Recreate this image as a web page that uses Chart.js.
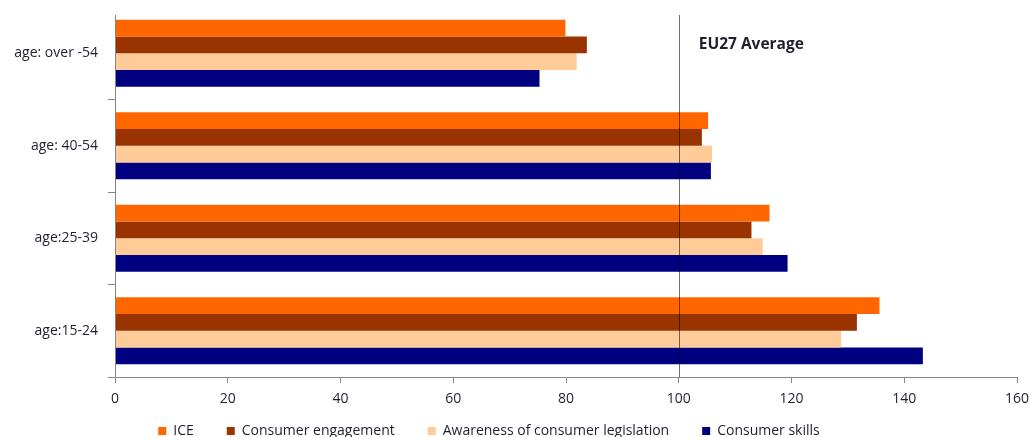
<!DOCTYPE html>
<html>
<head>
<meta charset="utf-8">
<script src="https://cdn.jsdelivr.net/npm/chart.js@4.4.1/dist/chart.umd.min.js"></script>
<style>
  html, body { margin: 0; padding: 0; background: #ffffff; }
  #wrap { width: 1030px; height: 437px; position: relative; }
</style>
</head>
<body>
<div id="wrap"><canvas id="c" width="1030" height="437"></canvas></div>
<script>
const categories = ['age: over -54', 'age: 40-54', 'age:25-39', 'age:15-24'];
const seriesNames = ['ICE', 'Consumer engagement', 'Awareness of consumer legislation', 'Consumer skills'];
const iceValues = [79.9, 105.2, 116.1, 135.6];
const engagementValues = [83.7, 104.1, 112.9, 131.6];
const awarenessValues = [81.9, 105.9, 114.9, 128.8];
const skillsValues = [75.3, 105.7, 119.3, 143.3];
const xMin = 0;
const xMax = 160;
const xStep = 20;
const averageValue = 100;
const averageLabel = 'EU27 Average';

const colors = ['#FF6600', '#993300', '#FFCC99', '#000080'];
const seriesValues = [iceValues, engagementValues, awarenessValues, skillsValues];
const FONT = 'Open Sans';
const TEXT = '#1f1f2e';
const AXIS = '#868686';

const avgPlugin = {
  id: 'avgLine',
  afterDatasetsDraw(chart) {
    const x = chart.scales.x.getPixelForValue(averageValue);
    const area = chart.chartArea;
    const ctx = chart.ctx;
    ctx.save();
    ctx.strokeStyle = AXIS;
    ctx.lineWidth = 1;
    ctx.beginPath();
    ctx.moveTo(Math.round(area.left) + 0.5, area.top + 8);
    ctx.lineTo(Math.round(area.left) + 0.5, area.bottom);
    ctx.stroke();
    ctx.strokeStyle = 'rgba(0,0,0,0.55)';
    ctx.beginPath();
    ctx.moveTo(Math.round(x) + 0.5, area.top + 8);
    ctx.lineTo(Math.round(x) + 0.5, area.bottom);
    ctx.stroke();
    ctx.fillStyle = TEXT;
    ctx.font = 'bold 15.5px "' + FONT + '"';
    ctx.textBaseline = 'middle';
    ctx.textAlign = 'left';
    ctx.fillText(averageLabel, x + 20, area.top + 38);
    ctx.restore();
  }
};

new Chart(document.getElementById('c'), {
  type: 'bar',
  data: {
    labels: categories,
    datasets: seriesNames.map((name, i) => ({
      label: name,
      data: seriesValues[i],
      backgroundColor: colors[i],
      borderWidth: 0,
      categoryPercentage: 0.725,
      barPercentage: 1.0
    }))
  },
  options: {
    indexAxis: 'y',
    responsive: false,
    animation: false,
    devicePixelRatio: 1,
    layout: { padding: { top: 7, left: -39, right: 13, bottom: 0 } },
    scales: {
      x: {
        min: xMin,
        max: xMax,
        afterFit(scale) {
          scale.height = 14;
          scale.paddingLeft = 0;
          scale.paddingRight = 0;
          scale.paddingTop = 0;
          scale.paddingBottom = 0;
          scale._computeLabelArea = () => undefined;
        },
        border: { display: true, color: AXIS, width: 1 },
        grid: { display: true, drawOnChartArea: false, drawTicks: true, tickLength: 6, color: AXIS },
        ticks: { stepSize: xStep, color: TEXT, font: { family: FONT, size: 14 }, padding: 8, maxRotation: 0, autoSkip: false }
      },
      y: {
        afterFit(scale) {
          scale.width = 154;
          scale.paddingTop = 0;
          scale.paddingBottom = 0;
          scale.paddingLeft = 0;
          scale.paddingRight = 0;
        },
        border: { display: false },
        grid: {
          display: true, offset: true, drawOnChartArea: false, drawTicks: true, tickLength: 7,
          color: (c) => (c.index === 0 ? 'rgba(0,0,0,0)' : AXIS)
        },
        ticks: { color: TEXT, font: { family: FONT, size: 14 }, padding: 10 }
      }
    },
    plugins: {
      legend: {
        display: true,
        position: 'bottom',
        maxHeight: 46,
        labels: {
          boxWidth: 8,
          boxHeight: 8,
          padding: 33,
          color: TEXT,
          font: { family: FONT, size: 14 }
        }
      },
      tooltip: { enabled: false }
    }
  },
  plugins: [avgPlugin]
});
</script>
</body>
</html>
